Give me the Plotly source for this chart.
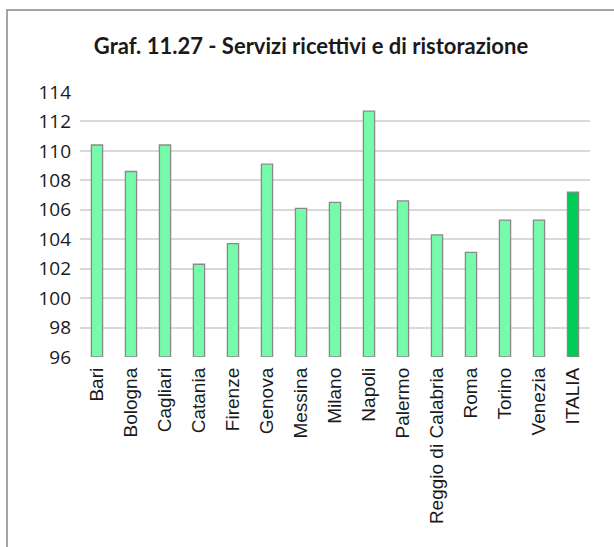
import plotly.graph_objects as go

categories = ["Bari", "Bologna", "Cagliari", "Catania", "Firenze", "Genova", "Messina",
              "Milano", "Napoli", "Palermo", "Reggio di Calabria", "Roma", "Torino",
              "Venezia", "ITALIA"]
values = [110.4, 108.6, 110.4, 102.3, 103.7, 109.1, 106.1, 106.5, 112.7, 106.6,
          104.3, 103.1, 105.3, 105.3, 107.2]
y_ticks = [96, 98, 100, 102, 104, 106, 108, 110, 112, 114]

light = "#75FBA9"
dark = "#00CC55"
colors = [dark if c == "ITALIA" else light for c in categories]

fig = go.Figure(go.Bar(
    x=categories, y=[v - 96 for v in values], base=96,
    marker=dict(color=colors, line=dict(color="#8A8A8A", width=1.3)),
    width=0.33,
))

W, H = 614, 547
L, R, T, B = 80, 24, 92, 190
pw, ph = W - L - R, H - T - B

def px_x(x):
    return (x - L) / pw

def px_y(y):
    return (H - B - y) / ph

fig.update_layout(
    width=W, height=H,
    margin=dict(l=L, r=R, t=T, b=B),
    paper_bgcolor="white", plot_bgcolor="white",
    showlegend=False,
    title=dict(text="<b>Graf. 11.27 - Servizi ricettivi e di ristorazione</b>",
               x=311 / W, xanchor="center", y=1 - 46 / H, yanchor="middle",
               font=dict(family="Lato", size=22, color="#1a1a1a")),
    xaxis=dict(tickangle=-90, tickfont=dict(family="Liberation Sans", size=19, color="#1a1a1a"),
               showgrid=False, showline=False, ticks="", ticklabelstandoff=6),
    yaxis=dict(range=[96, 114], tickvals=y_ticks, showgrid=True, gridcolor="#D9D9D9",
               gridwidth=1.5, zeroline=False, showline=False, ticks="",
               tickfont=dict(family="Open Sans", size=19, color="#1a1a1a"),
               ticklabelstandoff=8),
    shapes=[dict(type="rect", xref="paper", yref="paper",
                 x0=px_x(7), x1=px_x(640), y0=px_y(580), y1=px_y(10),
                 line=dict(color="#888888", width=1.5), fillcolor="rgba(0,0,0,0)",
                 layer="below")],
)

fig.write_html("out.html", config={"displayModeBar": False},
               post_script="document.body.style.margin='0';")
